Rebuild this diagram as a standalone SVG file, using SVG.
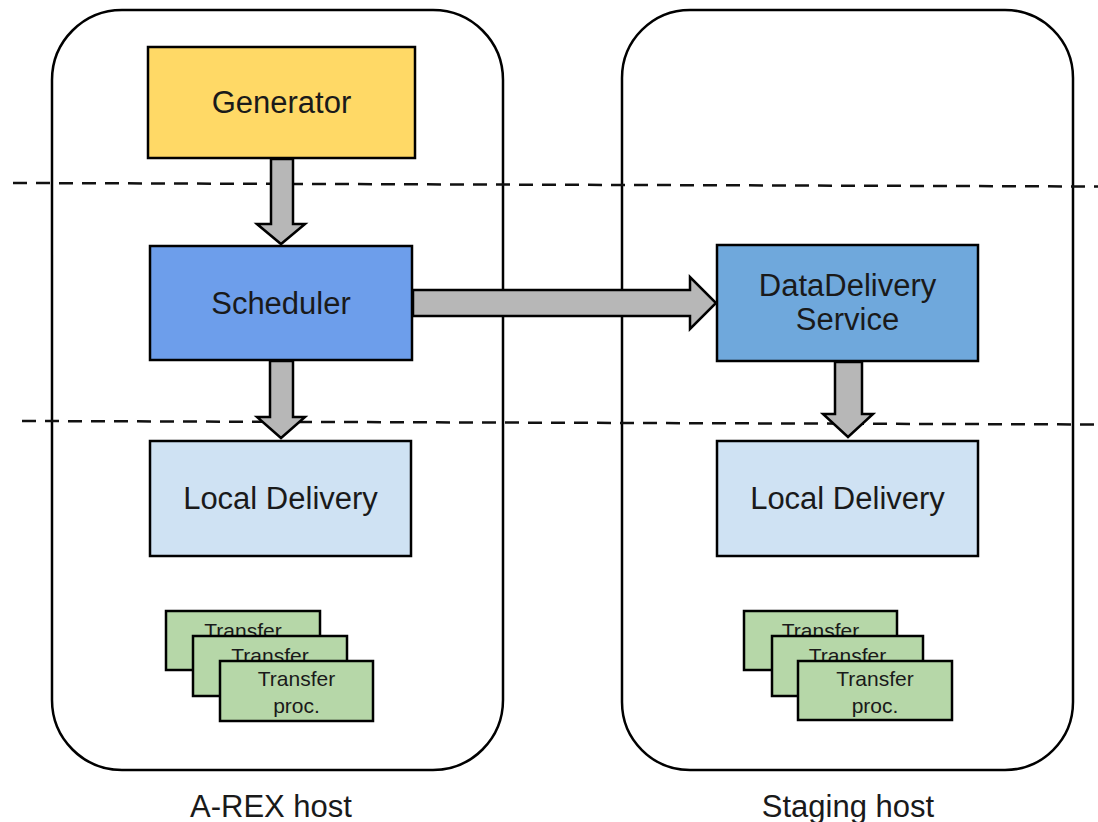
<svg xmlns="http://www.w3.org/2000/svg" width="1098" height="822" viewBox="0 0 1098 822">
<style>
.host{fill:#ffffff;stroke:#000;stroke-width:2.5}
.box{stroke:#000;stroke-width:2.5}
.lbl{font-family:"Liberation Sans",Arial,sans-serif;font-size:31px;fill:#1a1a1a;text-anchor:middle}
.small{font-family:"Liberation Sans",Arial,sans-serif;font-size:21px;fill:#1a1a1a;text-anchor:middle}
.dash{stroke:#111;stroke-width:2.5;stroke-dasharray:14 9;fill:none}
.arrow{fill:#b7b7b7;stroke:#000;stroke-width:2.5;stroke-linejoin:miter}
.tp{fill:#b6d7a8;stroke:#000;stroke-width:2.5}
</style>
<rect width="1098" height="822" fill="#ffffff"/>
<g id="arex-host">
<rect class="host" x="52" y="10" width="451" height="760" rx="70" ry="70"/>
<text class="lbl" x="271" y="817">A-REX host</text>
</g>
<g id="staging-host">
<rect class="host" x="622" y="10" width="451" height="760" rx="68" ry="68"/>
<text class="lbl" x="848" y="817">Staging host</text>
</g>
<g id="dividers">
<line class="dash" x1="13" y1="183" x2="1098" y2="186.5"/>
<line class="dash" x1="22" y1="421" x2="1098" y2="424.5"/>
</g>
<g id="generator">
<rect class="box" x="148" y="47" width="267" height="111" fill="#ffd966"/>
<text class="lbl" x="281.5" y="113">Generator</text>
</g>
<g id="scheduler">
<rect class="box" x="150" y="246" width="262" height="114" fill="#6d9eeb"/>
<text class="lbl" x="281" y="314">Scheduler</text>
</g>
<g id="datadelivery-service">
<rect class="box" x="717" y="245" width="261" height="116" fill="#6fa8dc"/>
<text class="lbl" x="847.5" y="296">DataDelivery</text>
<text class="lbl" x="847.5" y="330">Service</text>
</g>
<g id="local-delivery-arex">
<rect class="box" x="150" y="441" width="261" height="115" fill="#cfe2f3"/>
<text class="lbl" x="280.5" y="509">Local Delivery</text>
</g>
<g id="local-delivery-staging">
<rect class="box" x="717" y="441" width="261" height="115" fill="#cfe2f3"/>
<text class="lbl" x="847.5" y="509">Local Delivery</text>
</g>
<g id="transfer-arex">
<rect class="tp" x="166" y="611" width="154" height="59"/>
<text class="small" x="243" y="638">Transfer</text>
<rect class="tp" x="193" y="636" width="154" height="60"/>
<text class="small" x="270" y="663">Transfer</text>
<rect class="tp" x="220" y="661" width="153" height="60"/>
<text class="small" x="296.5" y="686">Transfer</text>
<text class="small" x="296.5" y="713">proc.</text>
</g>
<g id="transfer-staging">
<rect class="tp" x="744" y="611" width="153" height="59"/>
<text class="small" x="820.5" y="638">Transfer</text>
<rect class="tp" x="772" y="636" width="151" height="60"/>
<text class="small" x="847.5" y="663">Transfer</text>
<rect class="tp" x="798" y="661" width="154" height="59"/>
<text class="small" x="875" y="686">Transfer</text>
<text class="small" x="875" y="713">proc.</text>
</g>
<g id="connectors">
<polygon class="arrow" points="271,159 293,159 293,224 305,224 281,244 257,224 271,224"/>
<polygon class="arrow" points="270,361 293,361 293,417 305,417 281,438 257,417 270,417"/>
<polygon class="arrow" points="413,290 690,290 690,277 716,303 690,329 690,316 413,316"/>
<polygon class="arrow" points="835,362 862,362 862,414 873,414 848,437 823,414 835,414"/>
</g>
</svg>
